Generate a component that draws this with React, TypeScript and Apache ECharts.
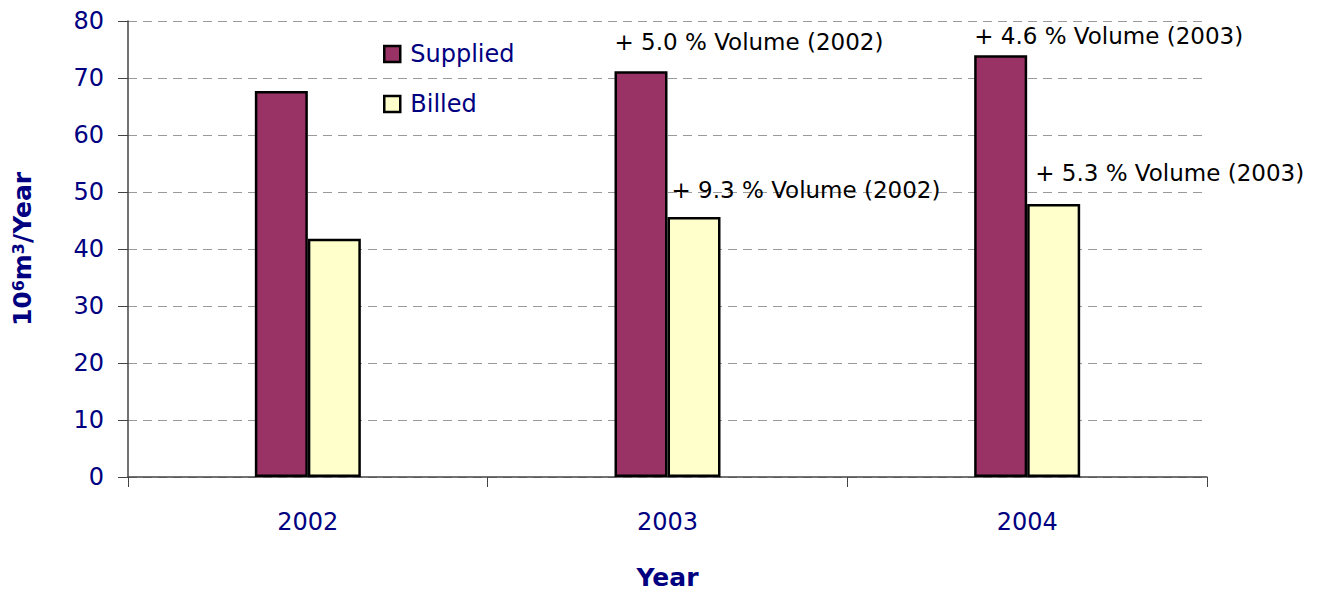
import React, { useEffect, useRef } from "react";
import * as echarts from "echarts";

const categories = ["2002", "2003", "2004"];
const supplied = [67.7, 71.2, 74.0];
const billed = [41.8, 45.6, 47.9];
const suppliedNotes = ["", "+ 5.0 % Volume (2002)", "+ 4.6 % Volume (2003)"];
const billedNotes = ["", "+ 9.3 % Volume (2002)", "+ 5.3 % Volume (2003)"];
const yTicks = [0, 10, 20, 30, 40, 50, 60, 70, 80];

const NAVY = "#000080";
const FONT = "DejaVu Sans, Verdana, sans-serif";

export default function App() {
  const ref = useRef<HTMLDivElement>(null);
  useEffect(() => {
    document.body.style.margin = "0";
    const chart = echarts.init(ref.current!, null, { renderer: "svg" });
    const noteLabel = (text: string, dx: number, dy: number) => ({
      show: text !== "",
      formatter: text,
      position: [dx, dy],
      align: "left",
      verticalAlign: "middle",
      color: "#000",
      fontFamily: FONT,
      fontSize: 23,
    });
    const supOffsets = [[0, -28], [0, -29], [0, -19]];
    const bilOffsets = [[4, -27], [4, -27], [8, -31]];
    chart.setOption({
      animation: false,
      backgroundColor: "#fff",
      grid: { left: 128, right: 137, top: 21, bottom: 116, outerBoundsMode: "none" },
      legend: {
        orient: "vertical",
        left: 378,
        top: 37,
        itemWidth: 16,
        itemHeight: 16,
        itemGap: 26,
        icon: "rect",
        itemStyle: { borderColor: "#000", borderWidth: 2.5 },
        textStyle: { color: NAVY, fontSize: 24, fontFamily: FONT, padding: [0, 0, 0, 5] },
        data: ["Supplied", "Billed"],
      },
      xAxis: {
        type: "category",
        data: categories,
        name: "Year",
        nameLocation: "middle",
        nameGap: 88,
        nameTextStyle: { color: NAVY, fontSize: 25, fontWeight: "bold", fontFamily: FONT },
        axisLine: { lineStyle: { color: "#444", width: 1.5 } },
        axisTick: { show: true, length: 10, lineStyle: { color: "#444" } },
        axisLabel: { color: NAVY, fontSize: 24, margin: 33, fontFamily: FONT },
      },
      yAxis: {
        type: "value",
        min: 0,
        max: 80,
        interval: 10,
        name: "10{sup|6}m{sup|3}/Year",
        nameLocation: "middle",
        nameGap: 93,
        nameTextStyle: {
          color: NAVY,
          fontSize: 25,
          fontWeight: "bold",
          fontFamily: FONT,
          rich: {
            sup: {
              color: NAVY,
              fontSize: 16,
              fontWeight: "bold",
              fontFamily: FONT,
              verticalAlign: "top",
              lineHeight: 16,
            },
          },
        },
        axisLine: { show: true, lineStyle: { color: "#444", width: 1.5 } },
        axisTick: { show: true, length: 10, lineStyle: { color: "#444" } },
        axisLabel: {
          color: NAVY,
          fontSize: 24,
          margin: 24,
          fontFamily: FONT,
          formatter: (v: number) => (yTicks.includes(v) ? String(v) : ""),
        },
        splitLine: { show: true, lineStyle: { color: "#9a9a9a", type: [9, 6], width: 1.2 } },
      },
      series: [
        {
          name: "Supplied",
          type: "bar",
          barWidth: 53,
          barGap: "0%",
          itemStyle: { color: "#993366", borderColor: "#000", borderWidth: 2.5 },
          data: supplied.map((v, i) => ({
            value: v,
            label: noteLabel(suppliedNotes[i], supOffsets[i][0], supOffsets[i][1]),
          })),
        },
        {
          name: "Billed",
          type: "bar",
          barWidth: 53,
          barGap: "0%",
          itemStyle: { color: "#FFFFCC", borderColor: "#000", borderWidth: 2.5 },
          data: billed.map((v, i) => ({
            value: v,
            label: noteLabel(billedNotes[i], bilOffsets[i][0], bilOffsets[i][1]),
          })),
        },
      ],
    });
    return () => chart.dispose();
  }, []);
  return <div ref={ref} style={{ width: 1344, height: 593 }} />;
}
